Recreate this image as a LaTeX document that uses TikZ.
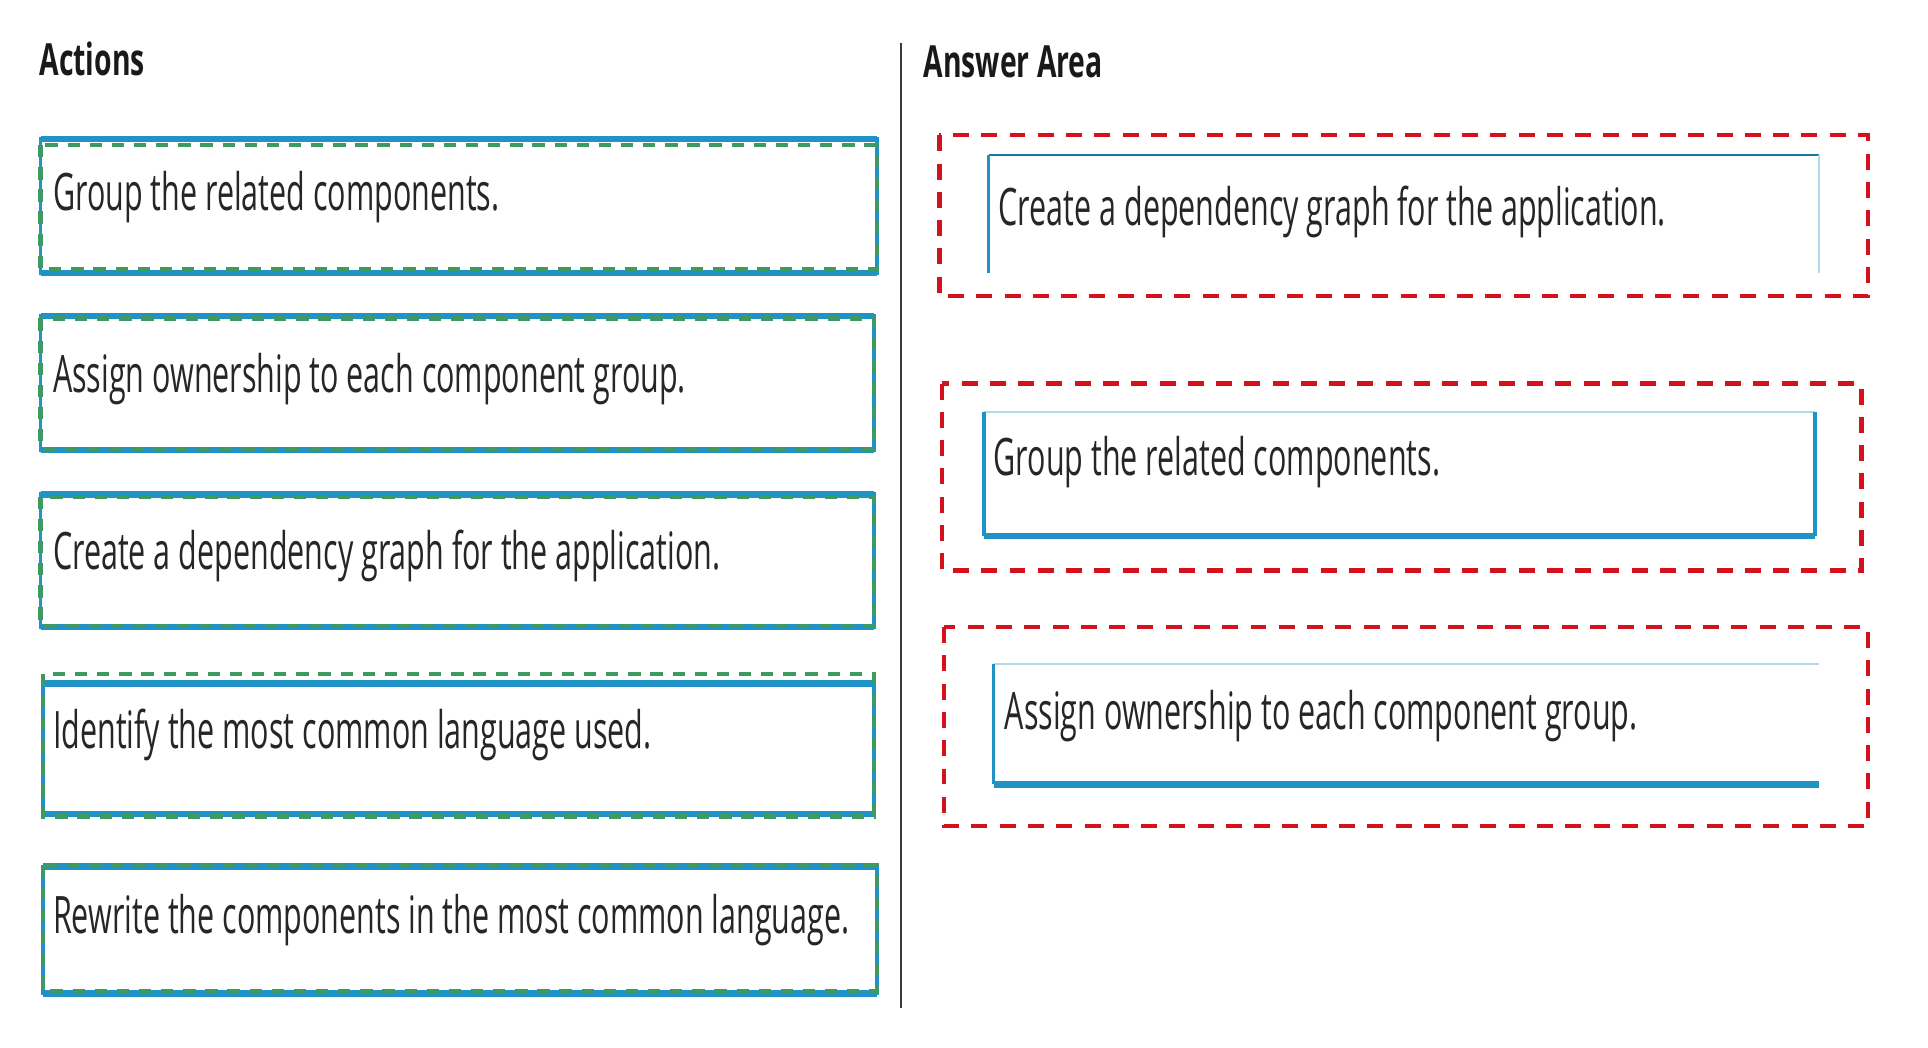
\documentclass[tikz,border=0pt]{standalone}
\usepackage{fontspec}
\usepackage{graphicx}
\setmainfont{Open Sans}
\newcommand\narrowtext[1]{\scalebox{0.59}[1]{#1}}
\newcommand\narrowhead[1]{\scalebox{0.64}[1]{#1}}
\definecolor{slotblue}{HTML}{1F93C8}
\definecolor{dashgreen}{HTML}{3E9A62}
\definecolor{dashred}{HTML}{D4121E}
\definecolor{rulegray}{HTML}{3A3A3A}
\tikzset{
  x=1pt, y=-1pt,
  slot/.style={rectangle, inner sep=0pt, outer sep=0pt},
  itemtext/.style={anchor=west, inner sep=0pt, text=black!85,
    font=\fontsize{42}{48}\selectfont},
  titletext/.style={anchor=west, inner sep=0pt, text=black!90,
    font=\fontsize{36}{42}\selectfont\bfseries},
  blueside/.style={draw=slotblue, line width=3pt},
  bluebar/.style={draw=slotblue, line width=5.5pt},
  thinrule/.style={draw=slotblue!35, line width=1pt},
  greendash/.style={draw=dashgreen, line width=3.5pt, dash pattern=on 10pt off 8pt},
  reddash/.style={draw=dashred, line width=3.5pt, dash pattern=on 13pt off 10pt},
}
\begin{document}
\begin{tikzpicture}
\useasboundingbox[fill=white] (0,0) rectangle (1568,852);

% headings and the dividing rule
\node[titletext] (acttitle) at (32,48) {\narrowhead{Actions}};
\node[titletext] (anstitle) at (751,50) {\narrowhead{Answer Area}};
\coordinate (divtop) at (733,35);
\coordinate (divbot) at (733,820);
\draw[rulegray, line width=1.6pt] (divtop) -- (divbot);

% ---- Actions column ----
\node[slot, minimum width=680, minimum height=109] (b1) at (373,167.5) {};
\node[slot, minimum width=678, minimum height=109] (b2) at (372,311.5) {};
\node[slot, minimum width=678, minimum height=108] (b3) at (372,456) {};
\node[slot, minimum width=676, minimum height=106] (b4) at (373,609) {};
\node[slot, minimum width=678, minimum height=103] (b5) at (374,756.5) {};

\foreach \b in {b1,b2,b3,b4,b5}{
  \draw[blueside] (\b.north west) rectangle (\b.south east);
  \draw[bluebar] (\b.north west) -- (\b.north east);
  \draw[bluebar] (\b.south west) -- (\b.south east);
}
\draw[greendash] ([yshift=-5pt]b1.north west) rectangle ([yshift=3pt]b1.south east);
\draw[greendash] ([yshift=-2pt]b2.north west) rectangle ([yshift=1pt]b2.south east);
\draw[greendash] ([yshift=-2pt]b3.north west) rectangle ([yshift=1pt]b3.south east);
\draw[greendash] ([yshift=8pt]b4.north west) rectangle ([yshift=-2pt]b4.south east);
\draw[greendash] ([yshift=1pt]b5.north west) rectangle ([yshift=2pt]b5.south east);

\node[itemtext] (t1) at (43,160) {\narrowtext{Group the related components.}};
\node[itemtext] (t2) at (43,308) {\narrowtext{Assign ownership to each component group.}};
\node[itemtext] (t3) at (43,452) {\narrowtext{Create a dependency graph for the application.}};
\node[itemtext] (t4) at (43,598) {\narrowtext{Identify the most common language used.}};
\node[itemtext] (t5) at (43,748) {\narrowtext{Rewrite the components in the most common language.}};

% ---- Answer Area column ----
\node[slot, minimum width=755, minimum height=131] (r1) at (1141.5,175.5) {};
\node[slot, minimum width=748, minimum height=152] (r2) at (1140,388) {};
\node[slot, minimum width=751, minimum height=162] (r3) at (1143.5,591) {};
\foreach \r in {r1,r2,r3}{
  \draw[reddash] (\r.north west) rectangle (\r.south east);
}

\node[slot, minimum width=675, minimum height=96] (i1) at (1141.5,174) {};
\node[slot, minimum width=676, minimum height=101] (i2) at (1138,385.5) {};
\node[slot, minimum width=671, minimum height=98] (i3) at (1143.5,589) {};

% first answer slot: ruled top, strong left edge, open bottom
\draw[draw=slotblue!80!black, line width=1.5pt] (i1.north west) -- (i1.north east);
\draw[thinrule, line width=1.5pt] (i1.north east) -- (i1.south east);
\draw[blueside] (i1.north west) -- (i1.south west);
% second and third answer slots: faint top, strong left and bottom edges
\draw[thinrule] (i2.north west) -- (i2.north east);
\draw[blueside] (i2.south west) -- (i2.north west);
\draw[blueside] (i2.north east) -- (i2.south east);
\draw[bluebar] (i2.south west) -- (i2.south east);
\draw[thinrule] (i3.north west) -- (i3.north east);
\draw[blueside] (i3.south west) -- (i3.north west);
\draw[bluebar] (i3.south west) -- (i3.south east);

\node[itemtext] (a1) at (812,172) {\narrowtext{Create a dependency graph for the application.}};
\node[itemtext] (a2) at (808,376) {\narrowtext{Group the related components.}};
\node[itemtext] (a3) at (817,582) {\narrowtext{Assign ownership to each component group.}};
\end{tikzpicture}
\end{document}
